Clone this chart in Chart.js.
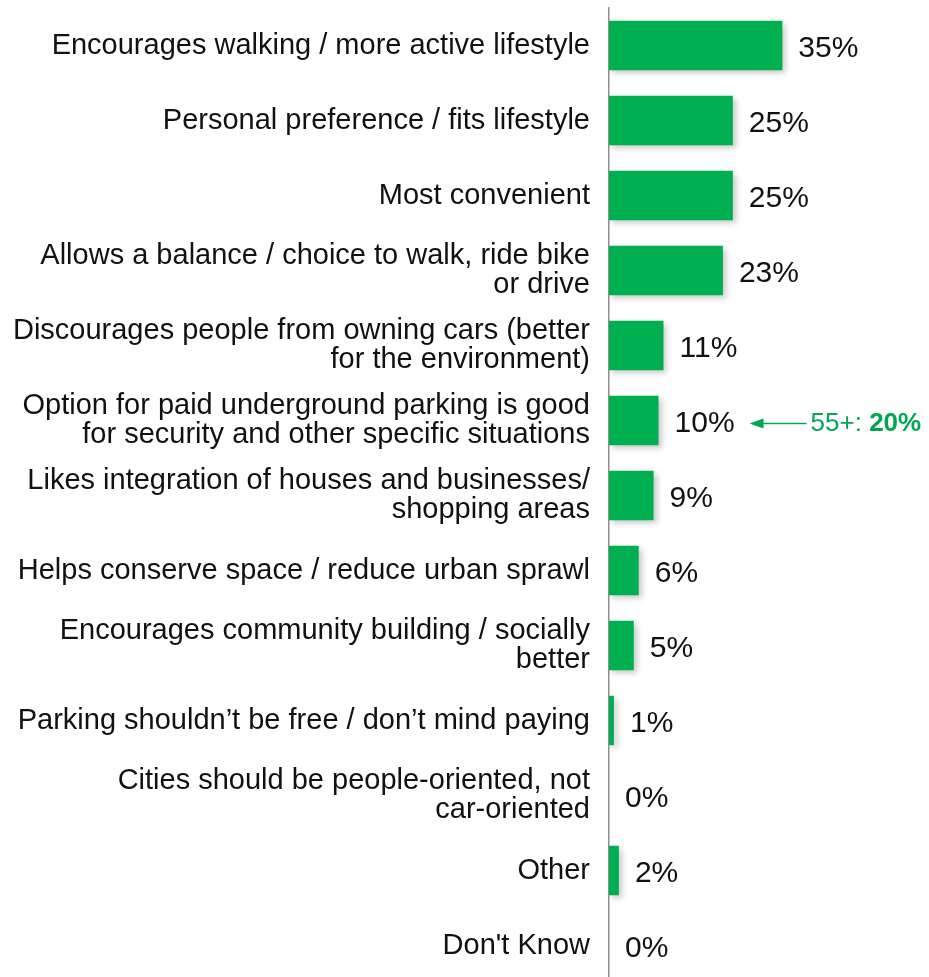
<!DOCTYPE html>
<html>
<head>
<meta charset="utf-8">
<script src="https://cdn.jsdelivr.net/npm/chart.js@4"></script>
<style>
  html, body { margin: 0; padding: 0; background: #fff; overflow: hidden; }
  #chart { display: block; }
</style>
</head>
<body>
<canvas id="chart" width="929" height="985"></canvas>
<script>
// categories (multi-line where the reference wraps them)
const reasons = [
    'Encourages walking / more active lifestyle',
    'Personal preference / fits lifestyle',
    'Most convenient',
    ['Allows a balance / choice to walk, ride bike', 'or drive'],
    ['Discourages people from owning cars (better', 'for the environment)'],
    ['Option for paid underground parking is good', 'for security and other specific situations'],
    ['Likes integration of houses and businesses/', 'shopping areas'],
    'Helps conserve space / reduce urban sprawl',
    ['Encourages community building / socially', 'better'],
    'Parking shouldn\u2019t be free / don\u2019t mind paying',
    ['Cities should be people-oriented, not', 'car-oriented'],
    'Other',
    "Don't Know"
];
const percents = [35, 25, 25, 23, 11, 10, 9, 6, 5, 1, 0, 2, 0];

// call-out next to one bar
const calloutIndex = 5;
const calloutPrefix = '55+: ';
const calloutValue = '20%';

const green = '#00B050';
const calloutGreen = '#00A651';
const labelFont = '"Liberation Sans", Arial, sans-serif';

// shadow under the bars
const barShadow = {
    id: 'barShadow',
    beforeDatasetsDraw(chart) {
        const ctx = chart.ctx;
        ctx.save();
        ctx.shadowColor = 'rgba(0,0,0,0.22)';
        ctx.shadowBlur = 6;
        ctx.shadowOffsetX = 3;
        ctx.shadowOffsetY = 3;
    },
    afterDatasetsDraw(chart) {
        chart.ctx.restore();
    }
};

// percentage labels + the 55+ call-out
const valueLabels = {
    id: 'valueLabels',
    afterDatasetsDraw(chart) {
        const ctx = chart.ctx;
        const meta = chart.getDatasetMeta(0);
        ctx.save();
        ctx.font = '30px ' + labelFont;
        ctx.fillStyle = '#111';
        ctx.textAlign = 'left';
        ctx.textBaseline = 'middle';
        meta.data.forEach((bar, i) => {
            const txt = percents[i] + '%';
            const x = bar.x + 16;
            const y = bar.y + 3;
            ctx.fillText(txt, x, y);

            if (i === calloutIndex) {
                const w = ctx.measureText(txt).width;
                const tipX = x + w + 15;
                const endX = tipX + 57;
                ctx.save();
                ctx.strokeStyle = calloutGreen;
                ctx.fillStyle = calloutGreen;
                ctx.lineWidth = 1.5;
                ctx.beginPath();
                ctx.moveTo(tipX + 12, y);
                ctx.lineTo(endX, y);
                ctx.stroke();
                ctx.beginPath();
                ctx.moveTo(tipX, y);
                ctx.lineTo(tipX + 14, y - 5);
                ctx.lineTo(tipX + 14, y + 5);
                ctx.closePath();
                ctx.fill();

                ctx.font = '26px ' + labelFont;
                ctx.fillText(calloutPrefix, endX + 4, y);
                const pw = ctx.measureText(calloutPrefix).width;
                ctx.font = 'bold 26px ' + labelFont;
                ctx.fillText(calloutValue, endX + 4 + pw, y);
                ctx.restore();
            }
        });
        ctx.restore();
    }
};

new Chart(document.getElementById('chart'), {
    type: 'bar',
    data: {
        labels: reasons,
        datasets: [{
            data: percents,
            backgroundColor: green,
            borderWidth: 0,
            categoryPercentage: 1,
            barPercentage: 0.66
        }]
    },
    options: {
        indexAxis: 'y',
        responsive: false,
        animation: false,
        devicePixelRatio: 1,
        layout: { padding: { top: 8, bottom: 2, left: 0, right: 0 } },
        plugins: {
            legend: { display: false },
            tooltip: { enabled: false }
        },
        scales: {
            x: {
                display: false,
                min: 0,
                max: 64.6
            },
            y: {
                afterFit(scale) {
                    scale.width = 609;
                    scale.paddingTop = 0;
                    scale.paddingBottom = 0;
                },
                grid: { display: false, drawTicks: false },
                border: { display: true, color: '#8f8f8f', width: 1.5 },
                ticks: {
                    color: '#111',
                    padding: 19,
                    font: { family: labelFont, size: 29, lineHeight: 0.97 }
                }
            }
        }
    },
    plugins: [barShadow, valueLabels]
});
</script>
</body>
</html>
